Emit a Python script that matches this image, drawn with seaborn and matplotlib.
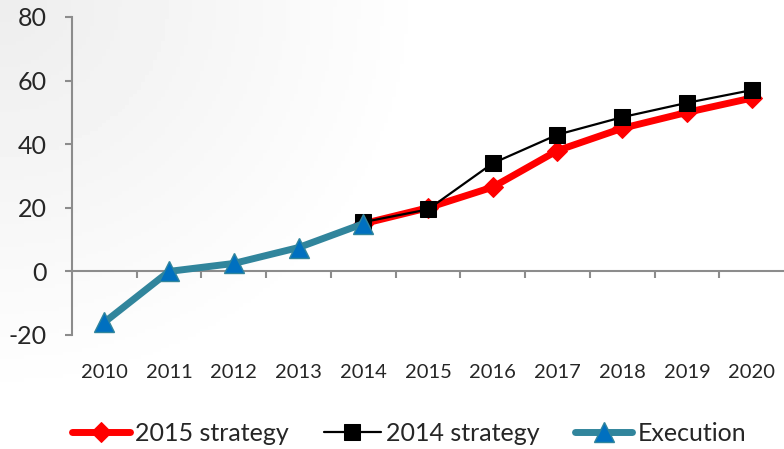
import numpy as np
import pandas as pd
import matplotlib
matplotlib.use("Agg")
import matplotlib.pyplot as plt
import seaborn as sns

# Yearly values for the plan revisions and the realised results
exec_years = [2010, 2011, 2012, 2013, 2014]
execution = [-16, 0, 2.5, 7.5, 15]

plan_years = [2014, 2015, 2016, 2017, 2018, 2019, 2020]
strategy_2015 = [15, 20, 26.5, 38, 45, 50, 54.5]
strategy_2014 = [15.5, 19.5, 34, 43, 48.5, 53, 57]

all_years = list(range(2010, 2021))
y_ticks = [-20, 0, 20, 40, 60, 80]

sns.set_theme(style="white")
plt.rcParams["font.family"] = ["Lato", "DejaVu Sans"]

fig = plt.figure(figsize=(7.84, 4.49), dpi=100)

# soft grey wash in the upper-left corner of the slide background
bg = fig.add_axes([0, 0, 1, 1], zorder=-10)
gx, gy = np.meshgrid(np.linspace(0, 1, 200), np.linspace(0, 1, 120))
d = np.sqrt((gx / 0.55) ** 2 + (gy / 0.9) ** 2)
shade = 0.93 + 0.07 * np.clip(d, 0, 1)
bg.imshow(shade, cmap="gray", vmin=0, vmax=1, aspect="auto", extent=[0, 1, 0, 1])
bg.axis("off")

ax = fig.add_axes([72 / 784, 1 - 335 / 449, 1 - 72 / 784, (335 - 17) / 449])
ax.patch.set_alpha(0)

sns.lineplot(x=plan_years, y=strategy_2015, ax=ax, color="#FF0000", linewidth=5,
             marker="D", markersize=10, markerfacecolor="#FF0000",
             markeredgecolor="#FF0000", label="2015 strategy", zorder=3)
sns.lineplot(x=plan_years, y=strategy_2014, ax=ax, color="black", linewidth=1.6,
             marker="s", markersize=11, markerfacecolor="black",
             markeredgecolor="black", label="2014 strategy", zorder=4)
sns.lineplot(x=exec_years, y=execution, ax=ax, color="#31859C", linewidth=5,
             marker="^", markersize=15, markerfacecolor="#0070C0",
             markeredgecolor="#31859C", markeredgewidth=1, label="Execution", zorder=5)

ax.set_xlim(2009.5, 2020.5)
ax.set_ylim(-20, 80)
ax.set_xlabel("")
ax.set_ylabel("")

axis_grey = "#8C8C8C"
for side in ["top", "right"]:
    ax.spines[side].set_visible(False)
ax.spines["left"].set_color(axis_grey)
ax.spines["left"].set_linewidth(1.5)
ax.spines["bottom"].set_position(("data", 0))
ax.spines["bottom"].set_color(axis_grey)
ax.spines["bottom"].set_linewidth(1.5)

ax.set_yticks(y_ticks)
ax.set_yticklabels([str(v) for v in y_ticks], fontsize=18)
ax.tick_params(axis="y", direction="out", length=5, width=1.5, color=axis_grey,
               pad=13, left=True)

ax.set_xticks(all_years)
ax.set_xticklabels([str(y) for y in all_years], fontsize=14.5)
ax.set_xticks([y + 0.5 for y in all_years[:-1]], minor=True)
ax.tick_params(axis="x", which="major", length=0, pad=67)
ax.tick_params(axis="x", which="minor", direction="out", length=5, width=1.5,
               color=axis_grey, bottom=True)

handles, labels = ax.get_legend_handles_labels()
ax.get_legend().remove()
fig.legend(handles, labels, loc="center", bbox_to_anchor=(0.522, 0.034),
           ncol=3, frameon=False, fontsize=18, handlelength=2.3,
           handletextpad=0.2, columnspacing=1.4, borderpad=0)

fig.savefig("out.png", dpi=100)
